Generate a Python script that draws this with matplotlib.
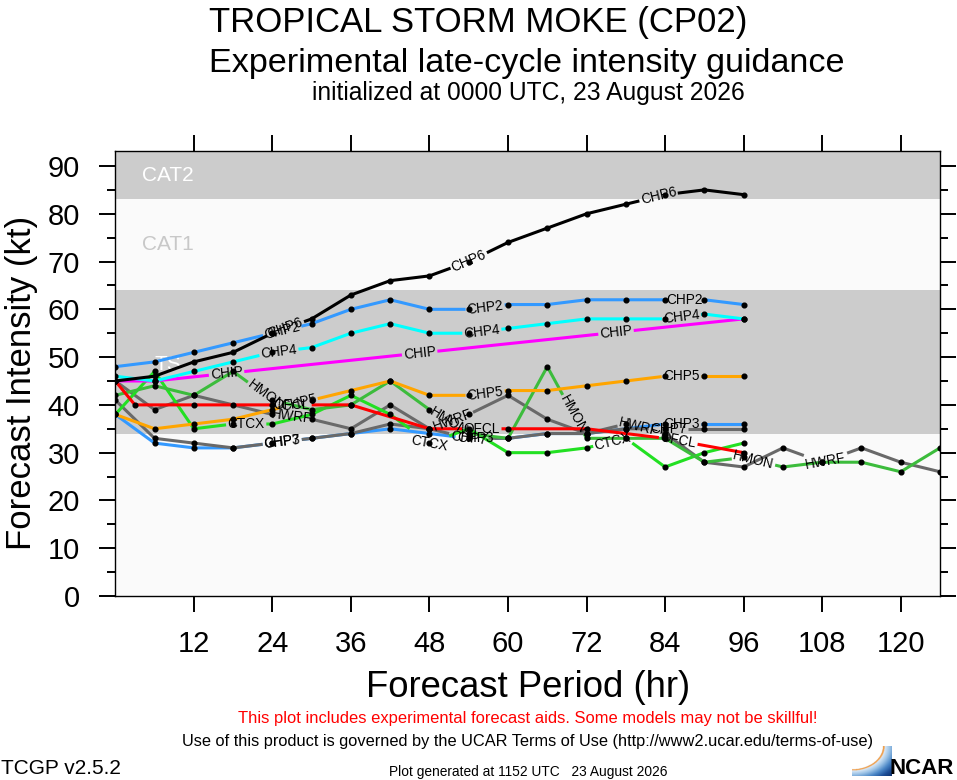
import numpy as np
import matplotlib
matplotlib.use('Agg')
import matplotlib.pyplot as plt
from matplotlib.colors import LinearSegmentedColormap

plt.rcParams['font.family'] = ['Liberation Sans', 'DejaVu Sans']

# forecast hours
H96 = [0, 6, 12, 18, 24, 30, 36, 42, 48, 54, 60, 66, 72, 78, 84, 90, 96]
H126 = [0, 6, 12, 18, 24, 30, 36, 42, 48, 54, 60, 66, 72, 78, 84, 90, 96,
        102, 108, 114, 120, 126]
H_OFCL = [0, 3, 12, 24, 36, 48, 60, 72, 84, 96]
H_CHIP = [0, 6, 96]

# intensity (kt) per aid
CHP6 = [45, 46, 49, 51, 55, 58, 63, 66, 67, 70, 74, 77, 80, 82, 84, 85, 84]
CHP2 = [48, 49, 51, 53, 55, 57, 60, 62, 60, 60, 61, 61, 62, 62, 62, 62, 61]
CHP4 = [46, 45, 47, 49, 51, 52, 55, 57, 55, 55, 56, 57, 58, 58, 58, 59, 58]
CHIP = [45, 45, 58]
CHP5 = [38, 35, 36, 37, 39, 41, 43, 45, 42, 42, 43, 43, 44, 45, 46, 46, 46]
OFCL = [45, 40, 40, 40, 40, 35, 35, 35, 33, 30]
HWRF = [45, 39, 42, 40, 38, 37, 35, 40, 35, 38, 42, 37, 34, 36, 34, 28, 27,
        31, 28, 31, 28, 26]
HMON = [42, 44, 42, 47, 41, 39, 40, 45, 39, 34, 33, 48, 33, 33, 33, 28, 29,
        27, 28, 28, 26, 31]
CTCX = [38, 47, 35, 36, 36, 38, 42, 38, 32, 35, 30, 30, 31, 33, 27, 30, 32]
CHP3 = [38, 32, 31, 31, 32, 33, 34, 35, 34, 33, 33, 34, 34, 35, 36, 36, 36]
CHP7 = [41, 33, 32, 31, 32, 33, 34, 36, 35, 33, 33, 34, 34, 35, 35, 35, 35]

# drawing order bottom -> top: name, hours, values, colour, label hours
SERIES = [
    ('CHP3', H96, CHP3, '#3399ff', [25.5, 55, 86.5]),
    ('CHP7', H96, CHP7, '#696969', [25.5, 54, 84.5]),
    ('HWRF', H126, HWRF, '#696969', [27, 51.5, 80, 108.5]),
    ('CTCX', H96, CTCX, '#22e022', [20, 48, 76]),
    ('HMON', H126, HMON, '#3cbc3c', [23, 51, 70, 97.5]),
    ('OFCL', H_OFCL, OFCL, '#ff0000', [27, 56, 86]),
    ('CHP5', H96, CHP5, '#ffa500', [28, 56.5, 86.5]),
    ('CHIP', H_CHIP, CHIP, '#ff00ff', [17, 46.5, 76.5]),
    ('CHP4', H96, CHP4, '#00ffff', [25, 56, 86.5]),
    ('CHP2', H96, CHP2, '#3399ff', [25.5, 56.5, 87]),
    ('CHP6', H96, CHP6, '#000000', [26, 54, 83]),
]

BANDS = [(34, 64, 'TS', 'white'), (64, 83, 'CAT1', '#c8c8c8'),
         (83, 93.2, 'CAT2', 'white')]

fig = plt.figure(figsize=(9.57, 7.80), dpi=100)
ax = fig.add_axes([115.3 / 957, 1 - 596 / 780, (940 - 115.3) / 957,
                   (596 - 150.7) / 780])
ax.set_facecolor('#fafafa')
ax.set_xlim(0, 126)
ax.set_ylim(0, 93.2)

for lo, hi, name, tcol in BANDS:
    if name != 'CAT1':
        ax.axhspan(lo, hi, color='#cccccc', lw=0, zorder=0)
    ax.text(8, (lo + hi) / 2 - (0.5 if name == 'TS' else 0), name,
            color=tcol, fontsize=15, ha='center', va='center', zorder=1)

ax.set_xticks([12, 24, 36, 48, 60, 72, 84, 96, 108, 120])
ax.set_yticks(range(0, 91, 10))
ax.set_yticks(range(5, 91, 10), minor=True)
ax.tick_params(axis='both', which='major', direction='out', length=11.5,
               width=1.4, top=True, right=True, labelsize=21)
ax.tick_params(axis='x', pad=13)
ax.tick_params(axis='y', pad=14)
ax.tick_params(axis='y', which='minor', direction='out', length=5.8,
               width=1.4, right=True)
for sp in ax.spines.values():
    sp.set_linewidth(1.0)

renderer = fig.canvas.get_renderer()
px_hr = ax.transData.transform((1, 0))[0] - ax.transData.transform((0, 0))[0]


def plot_with_gaps(hrs, vals, gaps, color):
    pieces = []
    start = hrs[0]
    for g0, g1 in sorted(gaps):
        pieces.append((start, g0))
        start = g1
    pieces.append((start, hrs[-1]))
    for a, b in pieces:
        if b <= a:
            continue
        inner = hrs[(hrs > a) & (hrs < b)]
        xs = np.concatenate(([a], inner, [b]))
        ax.plot(xs, np.interp(xs, hrs, vals), color=color, lw=2.2,
                solid_capstyle='butt', zorder=2)


for name, hrs, vals, color, lab_hrs in SERIES:
    hrs = np.asarray(hrs, float)
    vals = np.asarray(vals, float)
    gaps = []
    for h in lab_hrs:
        p0 = ax.transData.transform((h - 1, np.interp(h - 1, hrs, vals)))
        p1 = ax.transData.transform((h + 1, np.interp(h + 1, hrs, vals)))
        ang = np.arctan2(p1[1] - p0[1], p1[0] - p0[0])
        t = ax.text(h, np.interp(h, hrs, vals), name, fontsize=9.8,
                    ha='center', va='center', rotation_mode='anchor',
                    zorder=5)
        w = t.get_window_extent(renderer).width
        t.set_rotation(np.degrees(ang))
        half = (w / 2 + 1.5) * np.cos(ang) / px_hr
        gaps.append((max(h - half, hrs[0]), min(h + half, hrs[-1])))
    plot_with_gaps(hrs, vals, gaps, color)
    ax.plot(hrs, vals, ls='none', marker='o', ms=3.4, color='black',
            zorder=4)

# titles
fig.text(0.5, 1 - 32 / 780, 'TROPICAL STORM MOKE (CP02)', ha='center',
         va='baseline', fontsize=25)
fig.text(526.5 / 957, 1 - 72 / 780,
         'Experimental late-cycle intensity guidance',
         ha='center', va='baseline', fontsize=24.6)
fig.text(528.5 / 957, 1 - 100 / 780,
         'initialized at 0000 UTC, 23 August 2026',
         ha='center', va='baseline', fontsize=17.7)

fig.text(0.5513, 1 - 697 / 780, 'Forecast Period (hr)', ha='center',
         va='baseline', fontsize=26.3)
fig.text(22 / 957, 1 - 383 / 780, 'Forecast Intensity (kt)', ha='center',
         va='center', rotation=90, fontsize=25)

fig.text(528 / 957, 1 - 723 / 780,
         'This plot includes experimental forecast aids. '
         'Some models may not be skillful!',
         ha='center', va='baseline', fontsize=11.9, color='red')
fig.text(528 / 957, 1 - 746 / 780,
         'Use of this product is governed by the UCAR Terms of Use '
         '(http://www2.ucar.edu/terms-of-use)',
         ha='center', va='baseline', fontsize=11.8)
fig.text(528 / 957, 1 - 776 / 780,
         'Plot generated at 1152 UTC   23 August 2026',
         ha='center', va='baseline', fontsize=9.9)
fig.text(0.001, 1 - 774 / 780, 'TCGP v2.5.2', ha='left', va='baseline',
         fontsize=15)

# NCAR logo: blue swoosh and wordmark
fig.text(954 / 957, 1 - 774 / 780, 'NCAR', ha='right', va='baseline',
         fontsize=16, fontweight='bold')
lax = fig.add_axes([852 / 957, 1 - 776 / 780, 40 / 957, 30 / 780])
lax.axis('off')
gx, gy = np.meshgrid(np.linspace(0, 1, 120), np.linspace(0, 1, 90))
dist = np.hypot(gx, gy - 1.0)
cmap = LinearSegmentedColormap.from_list(
    'ncar', ['#e6f0fa', '#9cc3e6', '#4a86c6', '#1d4f98', '#0e3270'])
rgba = cmap(np.clip((dist - 0.8) / 0.6, 0, 1))
rgba[..., 3] = np.where(dist < 0.8, 0.0, 1.0)
edge = (dist >= 0.77) & (dist < 0.82)
rgba[edge] = (0.94, 0.63, 0.31, 1.0)
lax.imshow(rgba, extent=(0, 1, 0, 1), origin='lower', aspect='auto',
           interpolation='bilinear')

fig.savefig('out.png', dpi=100)
